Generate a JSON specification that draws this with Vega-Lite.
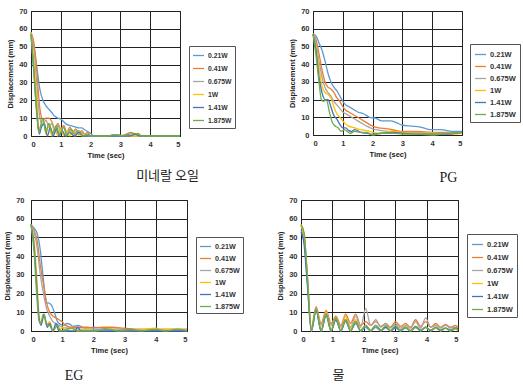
{
 "$schema": "https://vega.github.io/schema/vega-lite/v6.json",
 "padding": {"left": 3, "top": 6, "right": 0, "bottom": 0},
 "background": "white",
 "config": {
  "font": "Liberation Sans",
  "view": {"stroke": "#111", "strokeWidth": 1},
  "axis": {"labelFont": "Liberation Sans", "labelFontSize": 7.5, "labelFontWeight": "bold", "labelColor": "#333", "titleFont": "Liberation Sans", "titleFontSize": 7.5, "titleFontWeight": "bold", "titleColor": "#222", "gridColor": "#222", "gridOpacity": 1, "gridWidth": 1, "domain": false, "ticks": false, "labelPadding": 4, "titlePadding": 4},
  "legend": {"orient": "none", "strokeColor": "#555", "padding": 3, "symbolType": "stroke", "symbolSize": 121, "symbolStrokeWidth": 1.5, "labelOffset": 3, "labelFont": "Liberation Sans", "labelFontSize": 7.2, "labelFontWeight": "bold", "labelColor": "#333", "rowPadding": 2, "title": null},
  "line": {"interpolate": "monotone", "strokeWidth": 1.3}
 },
 "resolve": {"scale": {"color": "independent"}, "legend": {"color": "independent"}},
 "spacing": 9,
 "vconcat": [
  {"hconcat": [
   {"width": 149, "height": 125, "data": {"name": "p1"},
    "title": {"text": "미네랄 오일", "orient": "bottom", "anchor": "middle", "dx": 62, "font": "Noto Sans CJK KR", "fontSize": 13, "fontWeight": "normal", "color": "#222", "offset": 11},
    "mark": "line",
    "encoding": {
     "x": {"field": "t", "type": "quantitative", "scale": {"domain": [0, 5], "nice": false}, "axis": {"values": [0,1,2,3,4,5], "title": "Time (sec)"}},
     "y": {"field": "y", "type": "quantitative", "scale": {"domain": [0, 70], "nice": false}, "axis": {"values": [0,10,20,30,40,50,60,70], "title": "Displacement (mm)"}},
     "color": {"field": "s", "type": "nominal", "scale": {"domain": ["0.21W","0.41W","0.675W","1W","1.41W","1.875W"], "range": ["#5B9BD5","#ED7D31","#A5A5A5","#FFC000","#4472C4","#70AD47"]}, "legend": {"legendX": 158, "legendY": 35, "labelFontSize": 6.8}}
    }},
   {"width": 149, "height": 124, "data": {"name": "p2"},
    "title": {"text": "PG", "orient": "bottom", "anchor": "middle", "dx": 61, "font": "Liberation Serif", "fontSize": 14, "fontWeight": "normal", "color": "#222", "offset": 13},
    "mark": "line",
    "encoding": {
     "x": {"field": "t", "type": "quantitative", "scale": {"domain": [0, 5], "nice": false}, "axis": {"values": [0,1,2,3,4,5], "title": "Time (sec)"}},
     "y": {"field": "y", "type": "quantitative", "scale": {"domain": [0, 70], "nice": false}, "axis": {"values": [0,10,20,30,40,50,60,70], "title": "Displacement (mm)"}},
     "color": {"field": "s", "type": "nominal", "scale": {"domain": ["0.21W","0.41W","0.675W","1W","1.41W","1.875W"], "range": ["#5B9BD5","#ED7D31","#A5A5A5","#FFC000","#4472C4","#70AD47"]}, "legend": {"legendX": 157, "legendY": 33, "padding": 4, "labelFontSize": 7.5}}
    }}
  ], "spacing": 52, "resolve": {"scale": {"color": "independent"}, "legend": {"color": "independent"}}},
  {"hconcat": [
   {"width": 156, "height": 131, "data": {"name": "p3"},
    "title": {"text": "EG", "orient": "bottom", "anchor": "middle", "dx": -35, "font": "Liberation Serif", "fontSize": 14, "fontWeight": "normal", "color": "#222", "offset": 15},
    "mark": "line",
    "encoding": {
     "x": {"field": "t", "type": "quantitative", "scale": {"domain": [0, 5], "nice": false}, "axis": {"values": [0,1,2,3,4,5], "title": "Time (sec)"}},
     "y": {"field": "y", "type": "quantitative", "scale": {"domain": [0, 70], "nice": false}, "axis": {"values": [0,10,20,30,40,50,60,70], "title": "Displacement (mm)", "labelPadding": 7}},
     "color": {"field": "s", "type": "nominal", "scale": {"domain": ["0.21W","0.41W","0.675W","1W","1.41W","1.875W"], "range": ["#5B9BD5","#ED7D31","#A5A5A5","#FFC000","#4472C4","#70AD47"]}, "legend": {"legendX": 165, "legendY": 37}}
    }},
   {"width": 157, "height": 131, "data": {"name": "p4"},
    "title": {"text": "물", "orient": "bottom", "anchor": "middle", "dx": -41, "font": "Noto Sans CJK KR", "fontSize": 13, "fontWeight": "normal", "color": "#222", "offset": 15},
    "mark": "line",
    "encoding": {
     "x": {"field": "t", "type": "quantitative", "scale": {"domain": [0, 5], "nice": false}, "axis": {"values": [0,1,2,3,4,5], "title": "Time (sec)"}},
     "y": {"field": "y", "type": "quantitative", "scale": {"domain": [0, 70], "nice": false}, "axis": {"values": [0,10,20,30,40,50,60,70], "title": "Displacement (mm)"}},
     "color": {"field": "s", "type": "nominal", "scale": {"domain": ["0.21W","0.41W","0.675W","1W","1.41W","1.875W"], "range": ["#5B9BD5","#ED7D31","#A5A5A5","#FFC000","#4472C4","#70AD47"]}, "legend": {"legendX": 166, "legendY": 34, "padding": 4, "rowPadding": 3, "labelFontSize": 7.5}}
    }}
  ], "spacing": 32, "resolve": {"scale": {"color": "independent"}, "legend": {"color": "independent"}}}
 ],
 "datasets": {
  "p1": [
   {"s":"0.21W","t":0,"y":58},{"s":"0.21W","t":0.1,"y":50},{"s":"0.21W","t":0.2,"y":38},{"s":"0.21W","t":0.3,"y":26},{"s":"0.21W","t":0.4,"y":20},{"s":"0.21W","t":0.5,"y":17},{"s":"0.21W","t":0.6,"y":15},{"s":"0.21W","t":0.7,"y":13},{"s":"0.21W","t":0.8,"y":11},{"s":"0.21W","t":0.9,"y":10},{"s":"0.21W","t":1.0,"y":9.5},{"s":"0.21W","t":1.1,"y":8},{"s":"0.21W","t":1.2,"y":6.5},{"s":"0.21W","t":1.3,"y":6},{"s":"0.21W","t":1.4,"y":5.5},{"s":"0.21W","t":1.5,"y":5},{"s":"0.21W","t":1.6,"y":4.5},{"s":"0.21W","t":1.7,"y":4.5},{"s":"0.21W","t":1.8,"y":3.5},{"s":"0.21W","t":1.9,"y":2.5},{"s":"0.21W","t":2.0,"y":1.5},{"s":"0.21W","t":2.1,"y":0},{"s":"0.21W","t":2.7,"y":0},{"s":"0.21W","t":2.9,"y":0.8},{"s":"0.21W","t":3.1,"y":0},{"s":"0.21W","t":5,"y":0},
   {"s":"0.41W","t":0,"y":58},{"s":"0.41W","t":0.1,"y":52},{"s":"0.41W","t":0.2,"y":35},{"s":"0.41W","t":0.3,"y":15},{"s":"0.41W","t":0.4,"y":9},{"s":"0.41W","t":0.5,"y":10},{"s":"0.41W","t":0.6,"y":10},{"s":"0.41W","t":0.7,"y":8},{"s":"0.41W","t":0.8,"y":4},{"s":"0.41W","t":0.9,"y":7},{"s":"0.41W","t":1.0,"y":4},{"s":"0.41W","t":1.1,"y":6},{"s":"0.41W","t":1.2,"y":2},{"s":"0.41W","t":1.3,"y":5},{"s":"0.41W","t":1.4,"y":2},{"s":"0.41W","t":1.5,"y":4},{"s":"0.41W","t":1.6,"y":1.5},{"s":"0.41W","t":1.7,"y":3},{"s":"0.41W","t":1.8,"y":1},{"s":"0.41W","t":1.9,"y":2},{"s":"0.41W","t":2.0,"y":0},{"s":"0.41W","t":3.0,"y":0},{"s":"0.41W","t":3.2,"y":1},{"s":"0.41W","t":3.35,"y":2},{"s":"0.41W","t":3.5,"y":1},{"s":"0.41W","t":3.6,"y":1.5},{"s":"0.41W","t":3.7,"y":0},{"s":"0.41W","t":5,"y":0},
   {"s":"0.675W","t":0,"y":58},{"s":"0.675W","t":0.1,"y":48},{"s":"0.675W","t":0.2,"y":28},{"s":"0.675W","t":0.3,"y":10},{"s":"0.675W","t":0.4,"y":6},{"s":"0.675W","t":0.5,"y":9},{"s":"0.675W","t":0.6,"y":5},{"s":"0.675W","t":0.7,"y":7},{"s":"0.675W","t":0.8,"y":2},{"s":"0.675W","t":0.9,"y":6},{"s":"0.675W","t":1.0,"y":2},{"s":"0.675W","t":1.1,"y":5},{"s":"0.675W","t":1.2,"y":1},{"s":"0.675W","t":1.3,"y":4},{"s":"0.675W","t":1.4,"y":1},{"s":"0.675W","t":1.5,"y":3},{"s":"0.675W","t":1.6,"y":0.5},{"s":"0.675W","t":1.7,"y":2},{"s":"0.675W","t":1.8,"y":0},{"s":"0.675W","t":5,"y":0},
   {"s":"1W","t":0,"y":58},{"s":"1W","t":0.1,"y":42},{"s":"1W","t":0.2,"y":20},{"s":"1W","t":0.27,"y":3},{"s":"1W","t":0.35,"y":7},{"s":"1W","t":0.42,"y":9},{"s":"1W","t":0.5,"y":1},{"s":"1W","t":0.6,"y":6},{"s":"1W","t":0.7,"y":0},{"s":"1W","t":0.8,"y":5},{"s":"1W","t":0.9,"y":0},{"s":"1W","t":1.0,"y":4},{"s":"1W","t":1.1,"y":0},{"s":"1W","t":1.2,"y":3},{"s":"1W","t":1.3,"y":0},{"s":"1W","t":1.4,"y":3},{"s":"1W","t":1.5,"y":0},{"s":"1W","t":1.6,"y":2},{"s":"1W","t":1.7,"y":0},{"s":"1W","t":1.8,"y":1},{"s":"1W","t":1.9,"y":0},{"s":"1W","t":5,"y":0},
   {"s":"1.41W","t":0,"y":57},{"s":"1.41W","t":0.1,"y":35},{"s":"1.41W","t":0.2,"y":12},{"s":"1.41W","t":0.28,"y":1},{"s":"1.41W","t":0.35,"y":5},{"s":"1.41W","t":0.45,"y":7},{"s":"1.41W","t":0.55,"y":0},{"s":"1.41W","t":0.65,"y":5},{"s":"1.41W","t":0.75,"y":0},{"s":"1.41W","t":0.85,"y":4},{"s":"1.41W","t":0.95,"y":0},{"s":"1.41W","t":1.05,"y":3},{"s":"1.41W","t":1.15,"y":0},{"s":"1.41W","t":1.3,"y":2},{"s":"1.41W","t":1.45,"y":0},{"s":"1.41W","t":1.6,"y":2},{"s":"1.41W","t":1.75,"y":0},{"s":"1.41W","t":3.3,"y":0},{"s":"1.41W","t":3.5,"y":1},{"s":"1.41W","t":3.65,"y":0},{"s":"1.41W","t":5,"y":0},
   {"s":"1.875W","t":0,"y":57},{"s":"1.875W","t":0.1,"y":35},{"s":"1.875W","t":0.18,"y":15},{"s":"1.875W","t":0.26,"y":2},{"s":"1.875W","t":0.33,"y":6},{"s":"1.875W","t":0.4,"y":10},{"s":"1.875W","t":0.5,"y":2},{"s":"1.875W","t":0.6,"y":7},{"s":"1.875W","t":0.72,"y":1},{"s":"1.875W","t":0.85,"y":6},{"s":"1.875W","t":0.95,"y":1},{"s":"1.875W","t":1.1,"y":5},{"s":"1.875W","t":1.2,"y":0},{"s":"1.875W","t":1.35,"y":4},{"s":"1.875W","t":1.45,"y":1},{"s":"1.875W","t":1.6,"y":3},{"s":"1.875W","t":1.75,"y":0},{"s":"1.875W","t":1.9,"y":1},{"s":"1.875W","t":2.0,"y":0},{"s":"1.875W","t":2.6,"y":0},{"s":"1.875W","t":2.75,"y":0.8},{"s":"1.875W","t":2.9,"y":0.5},{"s":"1.875W","t":3.1,"y":0.3},{"s":"1.875W","t":3.3,"y":1},{"s":"1.875W","t":3.45,"y":1.5},{"s":"1.875W","t":3.6,"y":1},{"s":"1.875W","t":3.7,"y":0},{"s":"1.875W","t":5,"y":0}
  ],
  "p2": [
   {"s":"0.21W","t":0,"y":57},{"s":"0.21W","t":0.1,"y":56},{"s":"0.21W","t":0.2,"y":52},{"s":"0.21W","t":0.3,"y":48},{"s":"0.21W","t":0.4,"y":42},{"s":"0.21W","t":0.5,"y":35},{"s":"0.21W","t":0.6,"y":30},{"s":"0.21W","t":0.7,"y":27},{"s":"0.21W","t":0.8,"y":25},{"s":"0.21W","t":0.9,"y":22},{"s":"0.21W","t":1.0,"y":19},{"s":"0.21W","t":1.1,"y":17},{"s":"0.21W","t":1.2,"y":16},{"s":"0.21W","t":1.3,"y":15},{"s":"0.21W","t":1.4,"y":14},{"s":"0.21W","t":1.5,"y":13},{"s":"0.21W","t":1.7,"y":12},{"s":"0.21W","t":1.9,"y":10},{"s":"0.21W","t":2.1,"y":9.5},{"s":"0.21W","t":2.3,"y":8},{"s":"0.21W","t":2.6,"y":8},{"s":"0.21W","t":2.8,"y":7},{"s":"0.21W","t":3.0,"y":5.5},{"s":"0.21W","t":3.3,"y":5},{"s":"0.21W","t":3.6,"y":4.5},{"s":"0.21W","t":3.8,"y":3.5},{"s":"0.21W","t":4.0,"y":3},{"s":"0.21W","t":4.3,"y":3},{"s":"0.21W","t":4.5,"y":2.5},{"s":"0.21W","t":4.7,"y":2},{"s":"0.21W","t":5,"y":2},
   {"s":"0.41W","t":0,"y":57},{"s":"0.41W","t":0.1,"y":54},{"s":"0.41W","t":0.2,"y":46},{"s":"0.41W","t":0.3,"y":37},{"s":"0.41W","t":0.4,"y":30},{"s":"0.41W","t":0.5,"y":27},{"s":"0.41W","t":0.6,"y":26},{"s":"0.41W","t":0.7,"y":24},{"s":"0.41W","t":0.8,"y":21},{"s":"0.41W","t":0.9,"y":19},{"s":"0.41W","t":1.0,"y":16},{"s":"0.41W","t":1.1,"y":14},{"s":"0.41W","t":1.2,"y":13},{"s":"0.41W","t":1.4,"y":11},{"s":"0.41W","t":1.6,"y":9},{"s":"0.41W","t":1.8,"y":7},{"s":"0.41W","t":2.0,"y":5},{"s":"0.41W","t":2.2,"y":4},{"s":"0.41W","t":2.5,"y":3.5},{"s":"0.41W","t":2.8,"y":2.5},{"s":"0.41W","t":3.0,"y":2},{"s":"0.41W","t":3.5,"y":2},{"s":"0.41W","t":4.0,"y":1.5},{"s":"0.41W","t":4.5,"y":1.5},{"s":"0.41W","t":5,"y":1},
   {"s":"0.675W","t":0,"y":57},{"s":"0.675W","t":0.1,"y":52},{"s":"0.675W","t":0.2,"y":42},{"s":"0.675W","t":0.3,"y":33},{"s":"0.675W","t":0.4,"y":27},{"s":"0.675W","t":0.5,"y":24},{"s":"0.675W","t":0.6,"y":22},{"s":"0.675W","t":0.7,"y":19},{"s":"0.675W","t":0.8,"y":17},{"s":"0.675W","t":0.9,"y":15},{"s":"0.675W","t":1.0,"y":13},{"s":"0.675W","t":1.1,"y":12},{"s":"0.675W","t":1.2,"y":11},{"s":"0.675W","t":1.4,"y":9},{"s":"0.675W","t":1.6,"y":7},{"s":"0.675W","t":1.8,"y":5},{"s":"0.675W","t":2.0,"y":3.5},{"s":"0.675W","t":2.3,"y":2.5},{"s":"0.675W","t":2.6,"y":2},{"s":"0.675W","t":3.0,"y":1.5},{"s":"0.675W","t":3.5,"y":1.5},{"s":"0.675W","t":4.0,"y":1},{"s":"0.675W","t":4.5,"y":1},{"s":"0.675W","t":5,"y":1},
   {"s":"1W","t":0,"y":57},{"s":"1W","t":0.1,"y":50},{"s":"1W","t":0.2,"y":38},{"s":"1W","t":0.3,"y":28},{"s":"1W","t":0.4,"y":24},{"s":"1W","t":0.5,"y":23},{"s":"1W","t":0.6,"y":21},{"s":"1W","t":0.7,"y":16},{"s":"1W","t":0.8,"y":12},{"s":"1W","t":0.9,"y":10},{"s":"1W","t":1.0,"y":8},{"s":"1W","t":1.1,"y":6},{"s":"1W","t":1.2,"y":5},{"s":"1W","t":1.4,"y":4},{"s":"1W","t":1.6,"y":3},{"s":"1W","t":1.8,"y":2.5},{"s":"1W","t":2.0,"y":1.5},{"s":"1W","t":2.3,"y":1},{"s":"1W","t":2.6,"y":2},{"s":"1W","t":3.0,"y":1.5},{"s":"1W","t":3.5,"y":1},{"s":"1W","t":4.0,"y":1},{"s":"1W","t":4.5,"y":0.5},{"s":"1W","t":5,"y":1},
   {"s":"1.41W","t":0,"y":57},{"s":"1.41W","t":0.1,"y":48},{"s":"1.41W","t":0.2,"y":33},{"s":"1.41W","t":0.3,"y":24},{"s":"1.41W","t":0.4,"y":20},{"s":"1.41W","t":0.5,"y":20},{"s":"1.41W","t":0.6,"y":16},{"s":"1.41W","t":0.7,"y":11},{"s":"1.41W","t":0.8,"y":9},{"s":"1.41W","t":0.9,"y":6},{"s":"1.41W","t":1.0,"y":4},{"s":"1.41W","t":1.1,"y":4},{"s":"1.41W","t":1.2,"y":2.5},{"s":"1.41W","t":1.3,"y":2},{"s":"1.41W","t":1.4,"y":3},{"s":"1.41W","t":1.6,"y":1.5},{"s":"1.41W","t":1.8,"y":1},{"s":"1.41W","t":2.0,"y":0.5},{"s":"1.41W","t":2.3,"y":1},{"s":"1.41W","t":2.7,"y":1.5},{"s":"1.41W","t":3.0,"y":1},{"s":"1.41W","t":3.5,"y":0.5},{"s":"1.41W","t":4.0,"y":0.5},{"s":"1.41W","t":4.5,"y":0.5},{"s":"1.41W","t":5,"y":1.5},
   {"s":"1.875W","t":0,"y":57},{"s":"1.875W","t":0.1,"y":45},{"s":"1.875W","t":0.2,"y":30},{"s":"1.875W","t":0.28,"y":20},{"s":"1.875W","t":0.35,"y":19},{"s":"1.875W","t":0.45,"y":20},{"s":"1.875W","t":0.55,"y":13},{"s":"1.875W","t":0.65,"y":7},{"s":"1.875W","t":0.75,"y":5},{"s":"1.875W","t":0.85,"y":4},{"s":"1.875W","t":0.95,"y":2},{"s":"1.875W","t":1.05,"y":3},{"s":"1.875W","t":1.15,"y":2},{"s":"1.875W","t":1.25,"y":1},{"s":"1.875W","t":1.4,"y":2},{"s":"1.875W","t":1.6,"y":1.5},{"s":"1.875W","t":1.8,"y":1.5},{"s":"1.875W","t":2.0,"y":0},{"s":"1.875W","t":2.3,"y":1},{"s":"1.875W","t":2.7,"y":1},{"s":"1.875W","t":3.0,"y":0.5},{"s":"1.875W","t":3.5,"y":0.5},{"s":"1.875W","t":4.0,"y":0},{"s":"1.875W","t":4.3,"y":0.5},{"s":"1.875W","t":4.7,"y":1},{"s":"1.875W","t":5,"y":1.5}
  ],
  "p3": [
   {"s":"0.21W","t":0,"y":57},{"s":"0.21W","t":0.1,"y":55},{"s":"0.21W","t":0.2,"y":52},{"s":"0.21W","t":0.3,"y":43},{"s":"0.21W","t":0.35,"y":35},{"s":"0.21W","t":0.4,"y":27},{"s":"0.21W","t":0.45,"y":20},{"s":"0.21W","t":0.5,"y":15},{"s":"0.21W","t":0.55,"y":15},{"s":"0.21W","t":0.65,"y":14},{"s":"0.21W","t":0.75,"y":10},{"s":"0.21W","t":0.85,"y":5},{"s":"0.21W","t":0.95,"y":3.5},{"s":"0.21W","t":1.05,"y":3},{"s":"0.21W","t":1.15,"y":4},{"s":"0.21W","t":1.25,"y":3.5},{"s":"0.21W","t":1.35,"y":2.5},{"s":"0.21W","t":1.5,"y":3},{"s":"0.21W","t":1.65,"y":2},{"s":"0.21W","t":1.8,"y":1.5},{"s":"0.21W","t":2.0,"y":2},{"s":"0.21W","t":2.3,"y":1.5},{"s":"0.21W","t":2.6,"y":1},{"s":"0.21W","t":3.0,"y":1},{"s":"0.21W","t":3.5,"y":0.5},{"s":"0.21W","t":4.0,"y":0.5},{"s":"0.21W","t":4.5,"y":0.5},{"s":"0.21W","t":5,"y":0.5},
   {"s":"0.41W","t":0,"y":57},{"s":"0.41W","t":0.1,"y":54},{"s":"0.41W","t":0.2,"y":48},{"s":"0.41W","t":0.3,"y":35},{"s":"0.41W","t":0.4,"y":25},{"s":"0.41W","t":0.5,"y":15},{"s":"0.41W","t":0.6,"y":10},{"s":"0.41W","t":0.7,"y":8},{"s":"0.41W","t":0.8,"y":7},{"s":"0.41W","t":0.9,"y":6},{"s":"0.41W","t":1.0,"y":5},{"s":"0.41W","t":1.1,"y":3},{"s":"0.41W","t":1.3,"y":2},{"s":"0.41W","t":1.5,"y":2},{"s":"0.41W","t":1.8,"y":2},{"s":"0.41W","t":2.0,"y":1.5},{"s":"0.41W","t":2.3,"y":2},{"s":"0.41W","t":2.6,"y":2},{"s":"0.41W","t":3.0,"y":1.5},{"s":"0.41W","t":3.5,"y":1},{"s":"0.41W","t":4.0,"y":1},{"s":"0.41W","t":4.5,"y":1},{"s":"0.41W","t":5,"y":1},
   {"s":"0.675W","t":0,"y":57},{"s":"0.675W","t":0.1,"y":53},{"s":"0.675W","t":0.2,"y":44},{"s":"0.675W","t":0.3,"y":30},{"s":"0.675W","t":0.4,"y":20},{"s":"0.675W","t":0.5,"y":12},{"s":"0.675W","t":0.6,"y":8},{"s":"0.675W","t":0.7,"y":5},{"s":"0.675W","t":0.8,"y":4},{"s":"0.675W","t":0.9,"y":3},{"s":"0.675W","t":1.0,"y":2},{"s":"0.675W","t":1.2,"y":1.5},{"s":"0.675W","t":1.5,"y":1},{"s":"0.675W","t":2.0,"y":1},{"s":"0.675W","t":2.5,"y":0.5},{"s":"0.675W","t":3.0,"y":0.5},{"s":"0.675W","t":4.0,"y":0.5},{"s":"0.675W","t":5,"y":0.5},
   {"s":"1W","t":0,"y":57},{"s":"1W","t":0.1,"y":48},{"s":"1W","t":0.18,"y":30},{"s":"1W","t":0.25,"y":10},{"s":"1W","t":0.32,"y":4},{"s":"1W","t":0.4,"y":8},{"s":"1W","t":0.5,"y":3},{"s":"1W","t":0.6,"y":5},{"s":"1W","t":0.7,"y":0},{"s":"1W","t":0.8,"y":3},{"s":"1W","t":0.9,"y":0},{"s":"1W","t":1.0,"y":2},{"s":"1W","t":1.1,"y":0},{"s":"1W","t":1.3,"y":1.5},{"s":"1W","t":1.5,"y":0},{"s":"1W","t":1.8,"y":1},{"s":"1W","t":2.0,"y":0},{"s":"1W","t":2.5,"y":1},{"s":"1W","t":3.0,"y":0},{"s":"1W","t":3.5,"y":0.5},{"s":"1W","t":4.0,"y":1.5},{"s":"1W","t":4.2,"y":0.5},{"s":"1W","t":4.6,"y":1},{"s":"1W","t":5,"y":0},
   {"s":"1.41W","t":0,"y":57},{"s":"1.41W","t":0.1,"y":45},{"s":"1.41W","t":0.18,"y":25},{"s":"1.41W","t":0.25,"y":8},{"s":"1.41W","t":0.32,"y":3},{"s":"1.41W","t":0.42,"y":9},{"s":"1.41W","t":0.52,"y":2},{"s":"1.41W","t":0.6,"y":4},{"s":"1.41W","t":0.7,"y":0},{"s":"1.41W","t":0.8,"y":4},{"s":"1.41W","t":0.9,"y":0},{"s":"1.41W","t":1.4,"y":0},{"s":"1.41W","t":1.5,"y":2},{"s":"1.41W","t":1.6,"y":0},{"s":"1.41W","t":5,"y":0},
   {"s":"1.875W","t":0,"y":57},{"s":"1.875W","t":0.1,"y":42},{"s":"1.875W","t":0.18,"y":20},{"s":"1.875W","t":0.25,"y":6},{"s":"1.875W","t":0.3,"y":4},{"s":"1.875W","t":0.4,"y":9},{"s":"1.875W","t":0.5,"y":4},{"s":"1.875W","t":0.6,"y":3},{"s":"1.875W","t":0.7,"y":0},{"s":"1.875W","t":0.85,"y":3},{"s":"1.875W","t":0.95,"y":0},{"s":"1.875W","t":1.3,"y":1.5},{"s":"1.875W","t":1.5,"y":0},{"s":"1.875W","t":2.0,"y":0},{"s":"1.875W","t":2.5,"y":1},{"s":"1.875W","t":2.8,"y":0},{"s":"1.875W","t":3.2,"y":1},{"s":"1.875W","t":3.5,"y":0},{"s":"1.875W","t":4.0,"y":1},{"s":"1.875W","t":4.3,"y":0},{"s":"1.875W","t":4.7,"y":1},{"s":"1.875W","t":5,"y":0}
  ],
  "p4": [
   {"s":"0.21W","t":0,"y":54},{"s":"0.21W","t":0.1,"y":48},{"s":"0.21W","t":0.2,"y":28},{"s":"0.21W","t":0.33,"y":0},{"s":"0.21W","t":0.48,"y":11},{"s":"0.21W","t":0.64,"y":0},{"s":"0.21W","t":0.8,"y":8},{"s":"0.21W","t":0.96,"y":0},{"s":"0.21W","t":1.11,"y":6},{"s":"0.21W","t":1.27,"y":0},{"s":"0.21W","t":1.42,"y":5},{"s":"0.21W","t":1.58,"y":0},{"s":"0.21W","t":1.74,"y":4},{"s":"0.21W","t":1.9,"y":0},{"s":"0.21W","t":2.06,"y":2},{"s":"0.21W","t":2.22,"y":0},{"s":"0.21W","t":2.38,"y":2},{"s":"0.21W","t":2.54,"y":0},{"s":"0.21W","t":2.7,"y":2},{"s":"0.21W","t":2.85,"y":0},{"s":"0.21W","t":3.01,"y":1.5},{"s":"0.21W","t":3.17,"y":0},{"s":"0.21W","t":3.33,"y":1.5},{"s":"0.21W","t":3.49,"y":0},{"s":"0.21W","t":3.65,"y":2},{"s":"0.21W","t":3.81,"y":0},{"s":"0.21W","t":3.97,"y":2},{"s":"0.21W","t":4.13,"y":0},{"s":"0.21W","t":4.29,"y":1.5},{"s":"0.21W","t":4.45,"y":0},{"s":"0.21W","t":4.6,"y":1.5},{"s":"0.21W","t":4.76,"y":0},{"s":"0.21W","t":4.92,"y":1},{"s":"0.21W","t":5,"y":0.5},
   {"s":"0.41W","t":0,"y":57},{"s":"0.41W","t":0.1,"y":52},{"s":"0.41W","t":0.2,"y":30},{"s":"0.41W","t":0.33,"y":2},{"s":"0.41W","t":0.48,"y":13},{"s":"0.41W","t":0.64,"y":4},{"s":"0.41W","t":0.8,"y":11},{"s":"0.41W","t":0.96,"y":4},{"s":"0.41W","t":1.11,"y":8},{"s":"0.41W","t":1.27,"y":3},{"s":"0.41W","t":1.42,"y":9},{"s":"0.41W","t":1.58,"y":4},{"s":"0.41W","t":1.74,"y":9},{"s":"0.41W","t":1.9,"y":3},{"s":"0.41W","t":2.06,"y":5},{"s":"0.41W","t":2.22,"y":3},{"s":"0.41W","t":2.38,"y":5},{"s":"0.41W","t":2.54,"y":2.5},{"s":"0.41W","t":2.7,"y":4},{"s":"0.41W","t":2.85,"y":2},{"s":"0.41W","t":3.01,"y":5},{"s":"0.41W","t":3.17,"y":2.5},{"s":"0.41W","t":3.33,"y":4},{"s":"0.41W","t":3.49,"y":2},{"s":"0.41W","t":3.65,"y":6},{"s":"0.41W","t":3.81,"y":2.5},{"s":"0.41W","t":3.97,"y":5},{"s":"0.41W","t":4.13,"y":2},{"s":"0.41W","t":4.29,"y":4},{"s":"0.41W","t":4.45,"y":2},{"s":"0.41W","t":4.6,"y":3.5},{"s":"0.41W","t":4.76,"y":2},{"s":"0.41W","t":4.92,"y":3},{"s":"0.41W","t":5,"y":2},
   {"s":"0.675W","t":0,"y":56},{"s":"0.675W","t":0.1,"y":51},{"s":"0.675W","t":0.2,"y":29},{"s":"0.675W","t":0.33,"y":1},{"s":"0.675W","t":0.48,"y":12},{"s":"0.675W","t":0.64,"y":3},{"s":"0.675W","t":0.8,"y":10},{"s":"0.675W","t":0.96,"y":3},{"s":"0.675W","t":1.11,"y":7},{"s":"0.675W","t":1.27,"y":2},{"s":"0.675W","t":1.42,"y":8},{"s":"0.675W","t":1.58,"y":2},{"s":"0.675W","t":1.74,"y":8},{"s":"0.675W","t":1.9,"y":2},{"s":"0.675W","t":2.06,"y":12},{"s":"0.675W","t":2.22,"y":3},{"s":"0.675W","t":2.38,"y":6},{"s":"0.675W","t":2.54,"y":2},{"s":"0.675W","t":2.7,"y":4},{"s":"0.675W","t":2.85,"y":1.5},{"s":"0.675W","t":3.01,"y":4},{"s":"0.675W","t":3.17,"y":1.5},{"s":"0.675W","t":3.33,"y":3},{"s":"0.675W","t":3.49,"y":1.5},{"s":"0.675W","t":3.65,"y":5},{"s":"0.675W","t":3.81,"y":1.5},{"s":"0.675W","t":3.97,"y":7},{"s":"0.675W","t":4.13,"y":2},{"s":"0.675W","t":4.29,"y":3},{"s":"0.675W","t":4.45,"y":1.5},{"s":"0.675W","t":4.6,"y":3},{"s":"0.675W","t":4.76,"y":1.5},{"s":"0.675W","t":4.92,"y":2},{"s":"0.675W","t":5,"y":1.5},
   {"s":"1W","t":0,"y":56},{"s":"1W","t":0.1,"y":50},{"s":"1W","t":0.2,"y":28},{"s":"1W","t":0.33,"y":0},{"s":"1W","t":0.48,"y":12},{"s":"1W","t":0.64,"y":1},{"s":"1W","t":0.8,"y":10},{"s":"1W","t":0.96,"y":1},{"s":"1W","t":1.11,"y":7},{"s":"1W","t":1.27,"y":0.5},{"s":"1W","t":1.42,"y":8},{"s":"1W","t":1.58,"y":1},{"s":"1W","t":1.74,"y":6},{"s":"1W","t":1.9,"y":0.5},{"s":"1W","t":2.06,"y":3},{"s":"1W","t":2.22,"y":0.5},{"s":"1W","t":2.38,"y":3},{"s":"1W","t":2.54,"y":0.5},{"s":"1W","t":2.7,"y":2.5},{"s":"1W","t":2.85,"y":0.5},{"s":"1W","t":3.01,"y":2},{"s":"1W","t":3.17,"y":0.5},{"s":"1W","t":3.33,"y":2},{"s":"1W","t":3.49,"y":0.5},{"s":"1W","t":3.65,"y":2.5},{"s":"1W","t":3.81,"y":0.5},{"s":"1W","t":3.97,"y":2},{"s":"1W","t":4.13,"y":0.5},{"s":"1W","t":4.29,"y":1.5},{"s":"1W","t":4.45,"y":0.5},{"s":"1W","t":4.6,"y":1.5},{"s":"1W","t":4.76,"y":0.5},{"s":"1W","t":4.92,"y":1},{"s":"1W","t":5,"y":0.5},
   {"s":"1.41W","t":0,"y":53},{"s":"1.41W","t":0.1,"y":46},{"s":"1.41W","t":0.2,"y":25},{"s":"1.41W","t":0.33,"y":0},{"s":"1.41W","t":0.48,"y":11},{"s":"1.41W","t":0.64,"y":0},{"s":"1.41W","t":0.8,"y":9},{"s":"1.41W","t":0.96,"y":0},{"s":"1.41W","t":1.11,"y":6},{"s":"1.41W","t":1.27,"y":0},{"s":"1.41W","t":1.42,"y":6},{"s":"1.41W","t":1.58,"y":0},{"s":"1.41W","t":1.74,"y":5},{"s":"1.41W","t":1.9,"y":0},{"s":"1.41W","t":2.06,"y":3},{"s":"1.41W","t":2.22,"y":0},{"s":"1.41W","t":2.38,"y":3},{"s":"1.41W","t":2.54,"y":0.5},{"s":"1.41W","t":2.7,"y":2},{"s":"1.41W","t":2.85,"y":0},{"s":"1.41W","t":3.01,"y":2},{"s":"1.41W","t":3.17,"y":0.5},{"s":"1.41W","t":3.33,"y":2},{"s":"1.41W","t":3.49,"y":0},{"s":"1.41W","t":3.65,"y":2.5},{"s":"1.41W","t":3.81,"y":0.5},{"s":"1.41W","t":3.97,"y":2},{"s":"1.41W","t":4.13,"y":0.5},{"s":"1.41W","t":4.29,"y":2},{"s":"1.41W","t":4.45,"y":0.5},{"s":"1.41W","t":4.6,"y":1.5},{"s":"1.41W","t":4.76,"y":0.5},{"s":"1.41W","t":4.92,"y":1.5},{"s":"1.41W","t":5,"y":1},
   {"s":"1.875W","t":0,"y":57},{"s":"1.875W","t":0.1,"y":52},{"s":"1.875W","t":0.2,"y":30},{"s":"1.875W","t":0.33,"y":0},{"s":"1.875W","t":0.48,"y":12},{"s":"1.875W","t":0.64,"y":0},{"s":"1.875W","t":0.8,"y":9},{"s":"1.875W","t":0.96,"y":0},{"s":"1.875W","t":1.11,"y":7},{"s":"1.875W","t":1.27,"y":0},{"s":"1.875W","t":1.42,"y":6},{"s":"1.875W","t":1.58,"y":0},{"s":"1.875W","t":1.74,"y":5},{"s":"1.875W","t":1.9,"y":0},{"s":"1.875W","t":2.06,"y":3},{"s":"1.875W","t":2.22,"y":0},{"s":"1.875W","t":2.38,"y":3},{"s":"1.875W","t":2.54,"y":0},{"s":"1.875W","t":2.7,"y":3},{"s":"1.875W","t":2.85,"y":0},{"s":"1.875W","t":3.01,"y":3},{"s":"1.875W","t":3.17,"y":0},{"s":"1.875W","t":3.33,"y":2},{"s":"1.875W","t":3.49,"y":0},{"s":"1.875W","t":3.65,"y":2},{"s":"1.875W","t":3.81,"y":0},{"s":"1.875W","t":3.97,"y":2},{"s":"1.875W","t":4.13,"y":0},{"s":"1.875W","t":4.29,"y":2},{"s":"1.875W","t":4.45,"y":0},{"s":"1.875W","t":4.6,"y":1.5},{"s":"1.875W","t":4.76,"y":0},{"s":"1.875W","t":4.92,"y":1.5},{"s":"1.875W","t":5,"y":0.5}
  ]
 }
}
